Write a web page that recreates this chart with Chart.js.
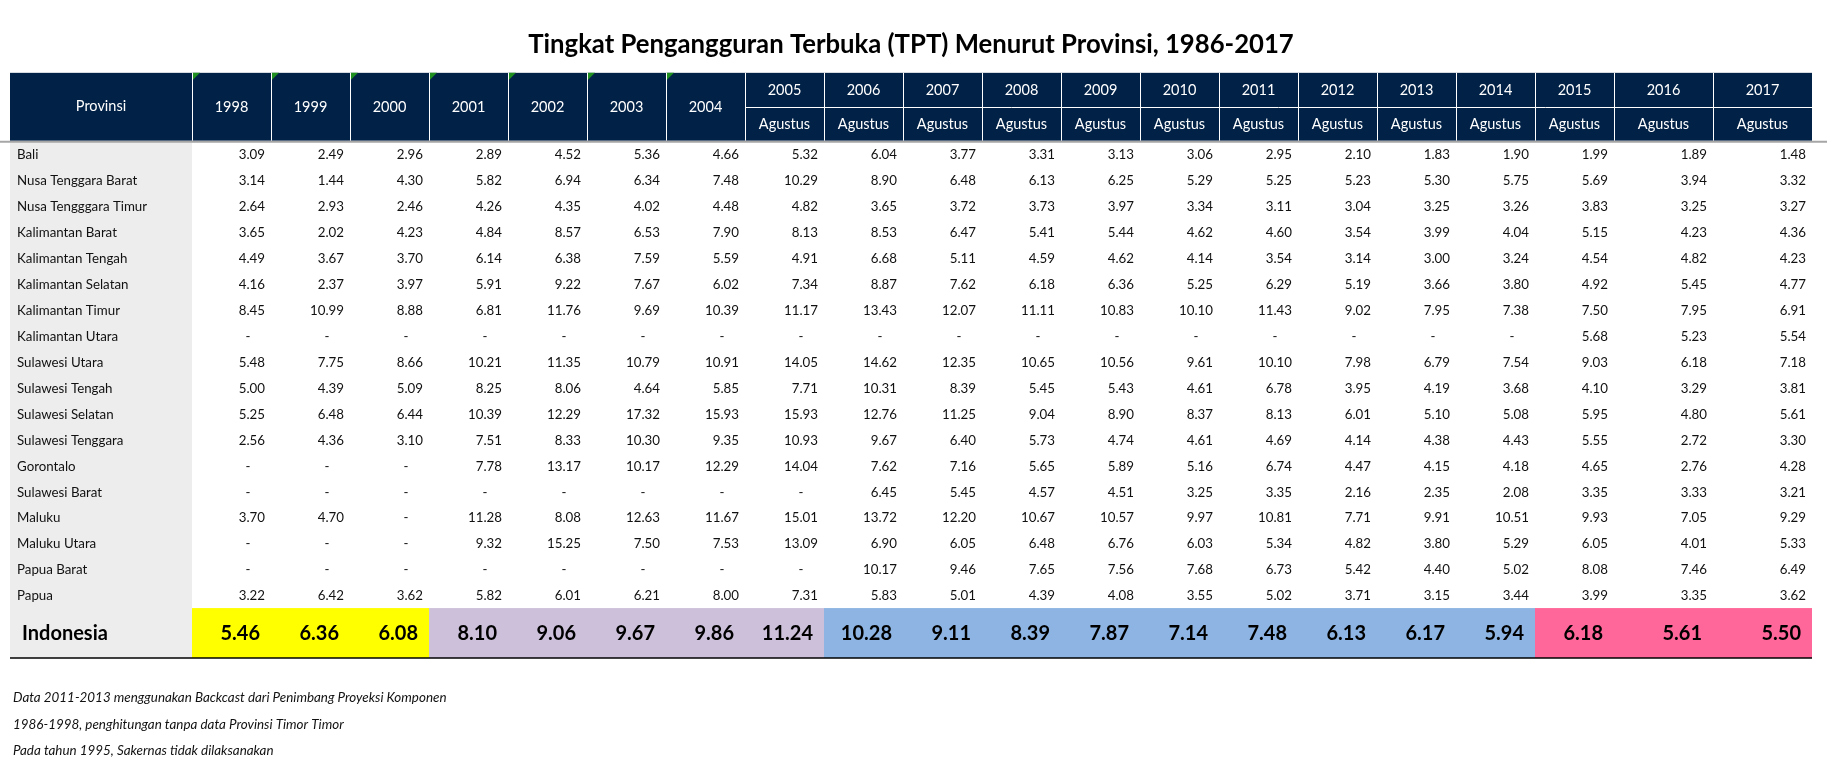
<!DOCTYPE html>
<html>
<head>
<meta charset="utf-8">
<title>TPT Menurut Provinsi</title>
<script src="https://cdn.jsdelivr.net/npm/chart.js@4.4.0/dist/chart.umd.min.js"></script>
<style>
  body { margin: 0; background: #ffffff; }
</style>
</head>
<body>
<canvas id="tptTable" width="1827" height="763"></canvas>
<script>
// column headers
const years = ['1998', '1999', '2000', '2001', '2002', '2003', '2004', '2005', '2006', '2007',
  '2008', '2009', '2010', '2011', '2012', '2013', '2014', '2015', '2016', '2017'];
const months = ['', '', '', '', '', '', '', 'Agustus', 'Agustus', 'Agustus',
  'Agustus', 'Agustus', 'Agustus', 'Agustus', 'Agustus', 'Agustus', 'Agustus', 'Agustus', 'Agustus', 'Agustus'];

// rows (null = "-")
const bali = [3.09, 2.49, 2.96, 2.89, 4.52, 5.36, 4.66, 5.32, 6.04, 3.77, 3.31, 3.13, 3.06, 2.95, 2.10, 1.83, 1.90, 1.99, 1.89, 1.48];
const ntb = [3.14, 1.44, 4.30, 5.82, 6.94, 6.34, 7.48, 10.29, 8.90, 6.48, 6.13, 6.25, 5.29, 5.25, 5.23, 5.30, 5.75, 5.69, 3.94, 3.32];
const ntt = [2.64, 2.93, 2.46, 4.26, 4.35, 4.02, 4.48, 4.82, 3.65, 3.72, 3.73, 3.97, 3.34, 3.11, 3.04, 3.25, 3.26, 3.83, 3.25, 3.27];
const kalbar = [3.65, 2.02, 4.23, 4.84, 8.57, 6.53, 7.90, 8.13, 8.53, 6.47, 5.41, 5.44, 4.62, 4.60, 3.54, 3.99, 4.04, 5.15, 4.23, 4.36];
const kalteng = [4.49, 3.67, 3.70, 6.14, 6.38, 7.59, 5.59, 4.91, 6.68, 5.11, 4.59, 4.62, 4.14, 3.54, 3.14, 3.00, 3.24, 4.54, 4.82, 4.23];
const kalsel = [4.16, 2.37, 3.97, 5.91, 9.22, 7.67, 6.02, 7.34, 8.87, 7.62, 6.18, 6.36, 5.25, 6.29, 5.19, 3.66, 3.80, 4.92, 5.45, 4.77];
const kaltim = [8.45, 10.99, 8.88, 6.81, 11.76, 9.69, 10.39, 11.17, 13.43, 12.07, 11.11, 10.83, 10.10, 11.43, 9.02, 7.95, 7.38, 7.50, 7.95, 6.91];
const kaltara = [null, null, null, null, null, null, null, null, null, null, null, null, null, null, null, null, null, 5.68, 5.23, 5.54];
const sulut = [5.48, 7.75, 8.66, 10.21, 11.35, 10.79, 10.91, 14.05, 14.62, 12.35, 10.65, 10.56, 9.61, 10.10, 7.98, 6.79, 7.54, 9.03, 6.18, 7.18];
const sulteng = [5.00, 4.39, 5.09, 8.25, 8.06, 4.64, 5.85, 7.71, 10.31, 8.39, 5.45, 5.43, 4.61, 6.78, 3.95, 4.19, 3.68, 4.10, 3.29, 3.81];
const sulsel = [5.25, 6.48, 6.44, 10.39, 12.29, 17.32, 15.93, 15.93, 12.76, 11.25, 9.04, 8.90, 8.37, 8.13, 6.01, 5.10, 5.08, 5.95, 4.80, 5.61];
const sultra = [2.56, 4.36, 3.10, 7.51, 8.33, 10.30, 9.35, 10.93, 9.67, 6.40, 5.73, 4.74, 4.61, 4.69, 4.14, 4.38, 4.43, 5.55, 2.72, 3.30];
const gorontalo = [null, null, null, 7.78, 13.17, 10.17, 12.29, 14.04, 7.62, 7.16, 5.65, 5.89, 5.16, 6.74, 4.47, 4.15, 4.18, 4.65, 2.76, 4.28];
const sulbar = [null, null, null, null, null, null, null, null, 6.45, 5.45, 4.57, 4.51, 3.25, 3.35, 2.16, 2.35, 2.08, 3.35, 3.33, 3.21];
const maluku = [3.70, 4.70, null, 11.28, 8.08, 12.63, 11.67, 15.01, 13.72, 12.20, 10.67, 10.57, 9.97, 10.81, 7.71, 9.91, 10.51, 9.93, 7.05, 9.29];
const malut = [null, null, null, 9.32, 15.25, 7.50, 7.53, 13.09, 6.90, 6.05, 6.48, 6.76, 6.03, 5.34, 4.82, 3.80, 5.29, 6.05, 4.01, 5.33];
const papbar = [null, null, null, null, null, null, null, null, 10.17, 9.46, 7.65, 7.56, 7.68, 6.73, 5.42, 4.40, 5.02, 8.08, 7.46, 6.49];
const papua = [3.22, 6.42, 3.62, 5.82, 6.01, 6.21, 8.00, 7.31, 5.83, 5.01, 4.39, 4.08, 3.55, 5.02, 3.71, 3.15, 3.44, 3.99, 3.35, 3.62];
const indonesia = [5.46, 6.36, 6.08, 8.10, 9.06, 9.67, 9.86, 11.24, 10.28, 9.11, 8.39, 7.87, 7.14, 7.48, 6.13, 6.17, 5.94, 6.18, 5.61, 5.50];

const provinces = ['Bali', 'Nusa Tenggara Barat', 'Nusa Tengggara Timur', 'Kalimantan Barat', 'Kalimantan Tengah',
  'Kalimantan Selatan', 'Kalimantan Timur', 'Kalimantan Utara', 'Sulawesi Utara', 'Sulawesi Tengah',
  'Sulawesi Selatan', 'Sulawesi Tenggara', 'Gorontalo', 'Sulawesi Barat', 'Maluku', 'Maluku Utara',
  'Papua Barat', 'Papua'];
const rows = [bali, ntb, ntt, kalbar, kalteng, kalsel, kaltim, kaltara, sulut, sulteng,
  sulsel, sultra, gorontalo, sulbar, maluku, malut, papbar, papua];

const notes = [
  'Data 2011-2013 menggunakan Backcast dari Penimbang Proyeksi Komponen',
  '1986-1998, penghitungan tanpa data Provinsi Timor Timor',
  'Pada tahun 1995, Sakernas tidak dilaksanakan'
];

// layout (scale units)
const firstColWidth = 182;
const colWidths = years.map((y, i) => i >= 18 ? 99 : 79);
const headerHeight = 68;
const rowHeight = 26;
const totalRowHeight = 50;
const indoColors = years.map((y, i) => i < 3 ? '#ffff00' : i < 8 ? '#ccc0da' : i < 17 ? '#8db4e2' : '#ff6699');

const colEdges = [0, firstColWidth];
colWidths.forEach(w => colEdges.push(colEdges[colEdges.length - 1] + w));
const tableWidth = colEdges[colEdges.length - 1];
const tableHeight = headerHeight + rows.length * rowHeight + totalRowHeight;

const FONT = 'Lato, "Open Sans", sans-serif';

const tablePlugin = {
  id: 'tablePlugin',
  beforeDatasetsDraw(chart) {
    const ctx = chart.ctx;
    const xs = chart.scales.x, ys = chart.scales.y;
    const px = v => xs.getPixelForValue(v);
    const py = v => ys.getPixelForValue(v);
    ctx.save();

    // province column background
    ctx.fillStyle = '#ededed';
    ctx.fillRect(px(0), py(headerHeight), px(firstColWidth) - px(0), py(tableHeight) - py(headerHeight));

    // header block
    ctx.fillStyle = '#012146';
    ctx.fillRect(px(0), py(0), px(tableWidth) - px(0), py(headerHeight) - py(0));
    ctx.strokeStyle = '#ffffff';
    ctx.lineWidth = 1;
    for (let i = 1; i < colEdges.length - 1; i++) {
      const x = Math.round(px(colEdges[i])) + 0.5;
      ctx.beginPath();
      ctx.moveTo(x, py(0));
      ctx.lineTo(x, py(headerHeight));
      ctx.stroke();
    }
    const splitY = Math.round(py(headerHeight / 2)) + 0.5;
    ctx.beginPath();
    ctx.moveTo(px(colEdges[8]), splitY);
    ctx.lineTo(px(tableWidth), splitY);
    ctx.stroke();

    // green corner marks
    ctx.fillStyle = '#1f8f1f';
    for (let i = 1; i <= 7; i++) {
      const x0 = Math.round(px(colEdges[i])) + 1, y0 = py(0);
      ctx.beginPath();
      ctx.moveTo(x0, y0);
      ctx.lineTo(x0 + 7, y0);
      ctx.lineTo(x0, y0 + 7);
      ctx.closePath();
      ctx.fill();
    }

    // header text
    ctx.fillStyle = '#ffffff';
    ctx.font = '14.5px ' + FONT;
    ctx.textAlign = 'center';
    ctx.textBaseline = 'middle';
    ctx.fillText('Provinsi', px(firstColWidth / 2), py(headerHeight / 2));
    years.forEach((yr, i) => {
      const cx = px((colEdges[i + 1] + colEdges[i + 2]) / 2);
      if (months[i]) {
        ctx.fillText(yr, cx, py(headerHeight / 4) + 1);
        ctx.fillText(months[i], cx, py(headerHeight * 3 / 4) + 1);
      } else {
        ctx.fillText(yr, cx, py(headerHeight / 2) + 1);
      }
    });

    // line under header
    ctx.strokeStyle = '#a6a6a6';
    ctx.lineWidth = 2;
    ctx.beginPath();
    ctx.moveTo(0, py(headerHeight) + 1);
    ctx.lineTo(chart.width, py(headerHeight) + 1);
    ctx.stroke();

    // body rows
    ctx.fillStyle = '#111111';
    ctx.font = '13.3px ' + FONT;
    rows.forEach((vals, r) => {
      const cy = py(headerHeight + r * rowHeight + rowHeight / 2) + 1;
      ctx.textAlign = 'left';
      ctx.fillText(provinces[r], px(0) + 7, cy);
      vals.forEach((v, i) => {
        const right = px(colEdges[i + 2]);
        if (v === null) {
          ctx.textAlign = 'center';
          ctx.fillText('-', right - 23, cy);
        } else {
          ctx.textAlign = 'right';
          ctx.fillText(v.toFixed(2), right - 6, cy);
        }
      });
    });

    // Indonesia row
    const top = headerHeight + rows.length * rowHeight;
    indonesia.forEach((v, i) => {
      ctx.fillStyle = indoColors[i];
      ctx.fillRect(px(colEdges[i + 1]), py(top), px(colEdges[i + 2]) - px(colEdges[i + 1]), py(tableHeight) - py(top));
    });
    const cy = py(top + totalRowHeight / 2) + 1;
    ctx.fillStyle = '#000000';
    ctx.font = 'bold 20px ' + FONT;
    ctx.textAlign = 'left';
    ctx.fillText('Indonesia', px(0) + 12, cy);
    ctx.textAlign = 'right';
    indonesia.forEach((v, i) => {
      ctx.fillText(v.toFixed(2), px(colEdges[i + 2]) - 11, cy);
    });

    ctx.strokeStyle = '#000000';
    ctx.lineWidth = 1.5;
    ctx.beginPath();
    ctx.moveTo(px(0), py(tableHeight));
    ctx.lineTo(px(tableWidth), py(tableHeight));
    ctx.stroke();

    // footnotes
    ctx.fillStyle = '#111111';
    ctx.font = 'italic 13.4px ' + FONT;
    ctx.textAlign = 'left';
    notes.forEach((n, i) => {
      ctx.fillText(n, 13, py(tableHeight) + 40 + i * 26.5);
    });

    ctx.restore();
  }
};

new Chart(document.getElementById('tptTable'), {
  type: 'scatter',
  data: { datasets: [{ data: [] }] },
  options: {
    responsive: false,
    animation: false,
    devicePixelRatio: 1,
    layout: { padding: { left: 10, right: 15, top: 0, bottom: 105 } },
    scales: {
      x: { type: 'linear', min: 0, max: tableWidth, display: false },
      y: { type: 'linear', min: 0, max: tableHeight, reverse: true, display: false }
    },
    plugins: {
      legend: { display: false },
      tooltip: { enabled: false },
      title: {
        display: true,
        text: 'Tingkat Pengangguran Terbuka (TPT) Menurut Provinsi, 1986-2017',
        color: '#000000',
        font: { family: FONT, size: 25.7, weight: 'bold' },
        padding: { top: 29, bottom: 13 }
      }
    }
  },
  plugins: [tablePlugin]
});
</script>
</body>
</html>
